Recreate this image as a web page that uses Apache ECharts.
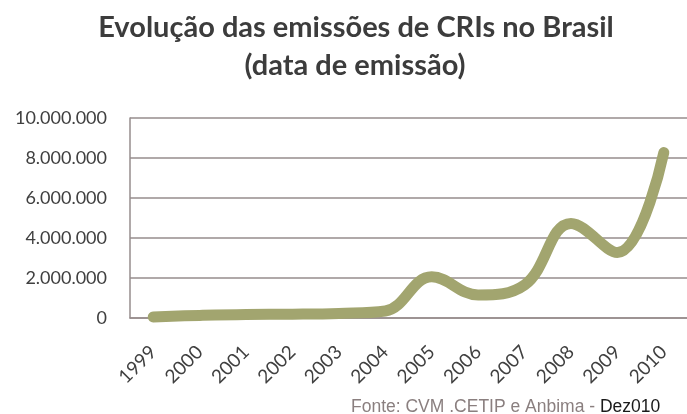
<!DOCTYPE html>
<html>
<head>
<meta charset="utf-8">
<script src="https://cdn.jsdelivr.net/npm/echarts@6/dist/echarts.min.js"></script>
<style>
html, body { margin: 0; padding: 0; background: #fff; }
#chart { width: 687px; height: 414px; }
</style>
</head>
<body>
<div id="chart"></div>
<script>
// dados (R$)
const anos = ["1999", "2000", "2001", "2002", "2003", "2004", "2005", "2006", "2007", "2008", "2009", "2010"];
const emissoes = [50000, 130000, 180000, 190000, 230000, 350000, 2060000, 1150000, 1650000, 4730000, 3270000, 8270000];
const yTicks = [0, 2000000, 4000000, 6000000, 8000000, 10000000];

const fmtBR = v => String(v).replace(/\B(?=(\d{3})+(?!\d))/g, ".");

const chart = echarts.init(document.getElementById("chart"));
const eixo = "#968c8c";
const fonte = "Lato, 'Open Sans', sans-serif";
const tituloStyle = {
	fontFamily: fonte,
	fontSize: 29,
	fontWeight: "bold",
	color: "#3c3c3c"
};

const option = {
	animation: false,
	backgroundColor: "#fff",
	title: [
		{
			text: "Evolução das emissões de CRIs no Brasil",
			left: 351,
			top: 8,
			textAlign: "center",
			textStyle: tituloStyle
		},
		{
			text: "(data de emissão)",
			left: 350,
			top: 46,
			textAlign: "center",
			textStyle: tituloStyle
		},
		{
			text: "{a|Fonte: CVM .CETIP e Anbima - }{b|Dez010}",
			left: 346,
			top: 393,
			textStyle: {
				fontWeight: "normal",
				rich: {
					a: { fontFamily: "'Liberation Sans', Arial, sans-serif", fontSize: 17.5, fontWeight: "normal", color: "#8a7f7f" },
					b: { fontFamily: "'Liberation Sans', Arial, sans-serif", fontSize: 17.5, fontWeight: "normal", color: "#1a1a1a" }
				}
			}
		}
	],
	grid: {
		left: 130,
		right: -6,
		top: 118,
		bottom: 96
	},
	xAxis: {
		type: "category",
		data: anos,
		boundaryGap: true,
		splitLine: { show: false },
		axisTick: { show: false },
		axisLine: { show: true, lineStyle: { color: eixo, width: 1.5 } },
		axisLabel: {
			interval: 0,
			rotate: 45,
			margin: 31,
			fontFamily: fonte,
			fontSize: 19,
			color: "#404040"
		}
	},
	yAxis: {
		type: "value",
		min: yTicks[0],
		max: yTicks[yTicks.length - 1],
		interval: 2000000,
		axisLine: { show: true, lineStyle: { color: eixo, width: 1.5 } },
		axisTick: { show: false },
		splitLine: { show: true, lineStyle: { color: eixo, width: 1.5 } },
		axisLabel: {
			margin: 23,
			fontFamily: fonte,
			fontSize: 18,
			color: "#404040",
			formatter: v => fmtBR(v)
		}
	},
	series: [
		{
			type: "line",
			data: emissoes,
			smooth: 0.4,
			symbol: "none",
			lineStyle: { color: "#a2a56f", width: 11, cap: "round", join: "round" }
		}
	]
};
chart.setOption(option);
</script>
</body>
</html>
